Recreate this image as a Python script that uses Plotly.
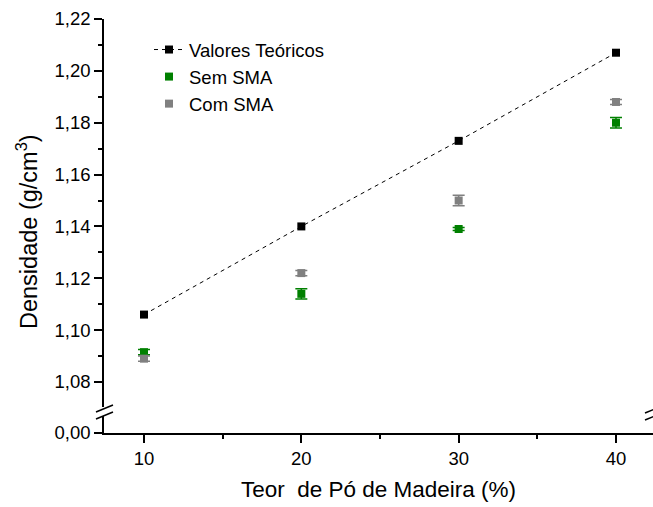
import plotly.graph_objects as go

# Data
teor = [10, 20, 30, 40]
teoricos = [1.106, 1.140, 1.173, 1.207]
sem_sma = [1.0915, 1.114, 1.139, 1.180]
sem_sma_err = [0.001, 0.002, 0.0006, 0.002]
com_sma = [1.089, 1.122, 1.150, 1.188]
com_sma_err = [0.001, 0.001, 0.002, 0.001]
y_ticks = [1.08, 1.10, 1.12, 1.14, 1.16, 1.18, 1.20, 1.22]
x_ticks = [10, 20, 30, 40]

W, H = 653, 507
L, R, T, B = 104, 0, 19, 74
PW = W - L - R
PH = H - T - B
AX_BOTTOM = H - B  # 433 px


def px(xp):
    return (xp - L) / PW


def py(yp):
    return (AX_BOTTOM - yp) / PH


FONT = "Arial, Liberation Sans, sans-serif"

fig = go.Figure()

fig.add_trace(go.Scatter(
    x=teor, y=teoricos, name="Valores Teóricos", mode="lines+markers",
    line=dict(color="black", width=1, dash="4px,4px"),
    marker=dict(symbol="square", size=8, color="black"),
))
fig.add_trace(go.Scatter(
    x=teor, y=sem_sma, name="Sem SMA", mode="markers",
    marker=dict(symbol="square", size=8, color="#008000"),
    error_y=dict(type="data", array=sem_sma_err, color="#008000", thickness=1.5, width=6),
))
fig.add_trace(go.Scatter(
    x=teor, y=com_sma, name="Com SMA", mode="markers",
    marker=dict(symbol="square", size=8, color="#808080"),
    error_y=dict(type="data", array=com_sma_err, color="#808080", thickness=1.5, width=6),
))
# invisible helper trace so the lower (broken) axis segment is drawn
fig.add_trace(go.Scatter(
    x=[teor[0]], y=[0], xaxis="x", yaxis="y2", mode="markers",
    marker=dict(size=1, color="rgba(0,0,0,0)"), showlegend=False, hoverinfo="skip",
))

top_lo_px = 407
bot_hi_px = 416
y_top_lo = 1.08 - (top_lo_px - 382) / 2592.0

fig.update_layout(
    width=W, height=H,
    margin=dict(l=L, r=R, t=T, b=B, pad=0),
    paper_bgcolor="white", plot_bgcolor="white",
    separators=",.",
    font=dict(family=FONT, size=18, color="black"),
    showlegend=True,
    legend=dict(
        x=px(149), y=py(31), xanchor="left", yanchor="top",
        bgcolor="rgba(0,0,0,0)", borderwidth=0,
        font=dict(family=FONT, size=18.5, color="black"),
        tracegroupgap=0, itemsizing="trace",
    ),
    xaxis=dict(
        range=[10 - (144 - L) / 15.73, 40 + (W - 616) / 15.73],
        anchor="y2",
        showline=True, linecolor="black", linewidth=1.5,
        ticks="outside", ticklen=8, tickwidth=1.5, tickcolor="black",
        tickvals=x_ticks, ticktext=[str(v) for v in x_ticks],
        minor=dict(tickvals=[15, 25, 35], ticks="outside", ticklen=4, tickwidth=1.5, tickcolor="black"),
        showgrid=False, zeroline=False,
        tickfont=dict(family=FONT, size=18.5),
        title=dict(text="Teor\u00a0 de Pó de Madeira (%)", font=dict(family=FONT, size=22.5), standoff=13),
    ),
    yaxis=dict(
        domain=[py(top_lo_px), 1],
        range=[y_top_lo, 1.22],
        anchor="x",
        showline=True, linecolor="black", linewidth=1.5,
        ticks="outside", ticklen=8, tickwidth=1.5, tickcolor="black",
        tickvals=y_ticks, tickformat=".2f",
        minor=dict(dtick=0.01, tick0=1.0, ticks="outside", ticklen=4, tickwidth=1.5, tickcolor="black", showgrid=False),
        showgrid=False, zeroline=False,
        tickfont=dict(family=FONT, size=18.5),
    ),
    yaxis2=dict(
        domain=[0, py(bot_hi_px)],
        range=[0, 0.01],
        anchor="x",
        showline=True, linecolor="black", linewidth=1.5,
        ticks="outside", ticklen=8, tickwidth=1.5, tickcolor="black",
        tickvals=[0], ticktext=["0,00"],
        showgrid=False, zeroline=False,
        tickfont=dict(family=FONT, size=18.5),
    ),
)

# y-axis title
fig.add_annotation(
    xref="paper", yref="paper", x=px(27), y=py(232),
    text="Densidade (g/cm<sup>3</sup>)", textangle=-90, showarrow=False,
    font=dict(family=FONT, size=23.5, color="black"), xanchor="center", yanchor="middle",
)

# axis break marks
for (x0, y0, x1, y1) in [(96, 412, 113, 405), (96, 419, 113, 412),
                         (645, 413, 662, 406), (645, 420, 662, 413)]:
    fig.add_shape(type="line", xref="paper", yref="paper",
                  x0=px(x0), y0=py(y0), x1=px(x1), y1=py(y1),
                  line=dict(color="black", width=1.5))

fig.write_html("out.html")
